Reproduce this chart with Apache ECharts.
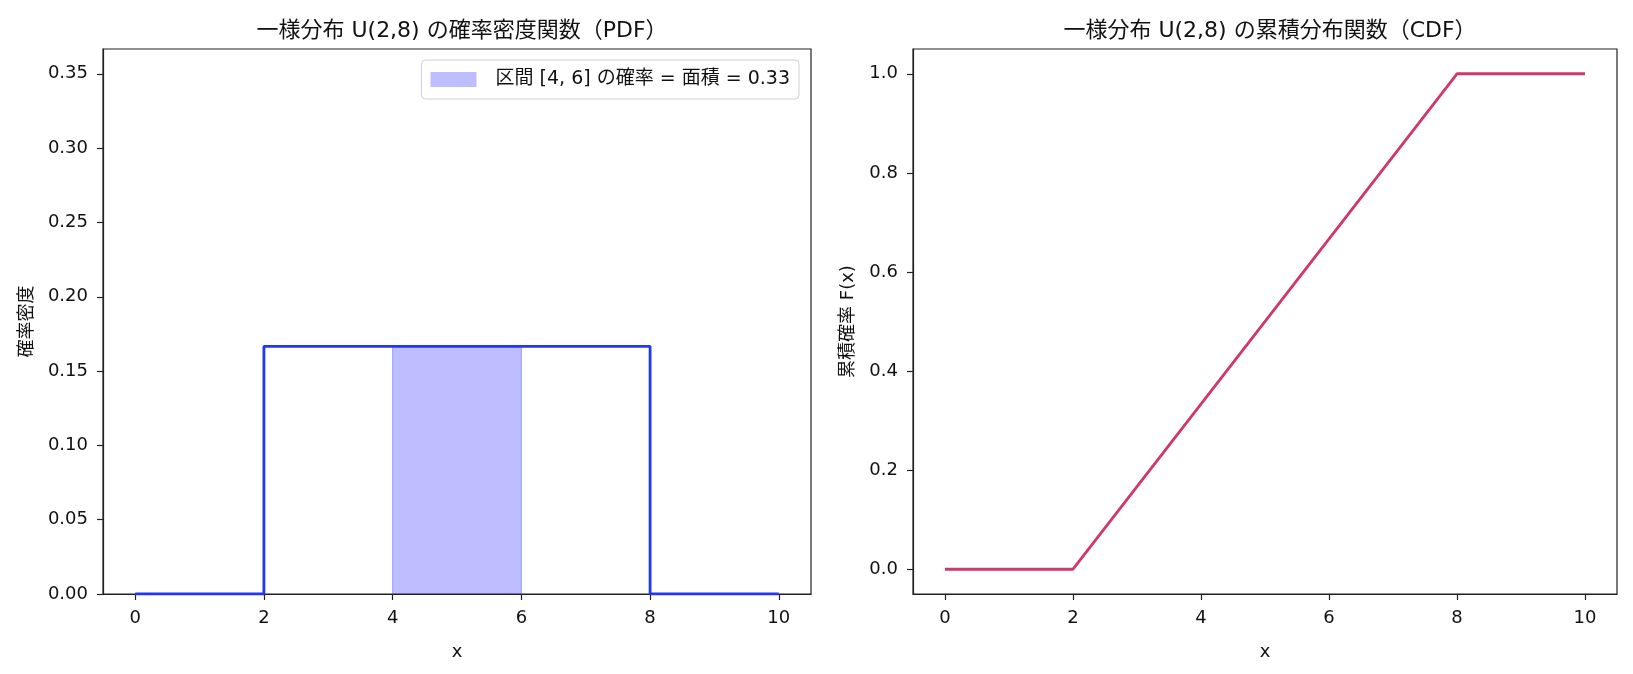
<!DOCTYPE html>
<html>
<head>
<meta charset="utf-8">
<script src="https://cdn.jsdelivr.net/npm/echarts@6/dist/echarts.min.js"></script>
<style>
  html, body { margin: 0; padding: 0; background: #fff; }
  #main { width: 1633px; height: 674px; }
</style>
</head>
<body>
<div id="main"></div>
<script>
// 一様分布 U(2,8) のデータ
const pdfPoints = [[0, 0], [2, 0], [2, 1 / 6], [8, 1 / 6], [8, 0], [10, 0]];
const areaPoints = [[4, 0], [4, 1 / 6], [6, 1 / 6], [6, 0]];
const cdfPoints = [[0, 0], [2, 0], [8, 1], [10, 1]];
const xTicks = [0, 2, 4, 6, 8, 10];
const cdfTicks = [0, 0.2, 0.4, 0.6, 0.8, 1.0];
const areaName = '区間 [4, 6] の確率 = 面積 = 0.33';

const FONT = '"DejaVu Sans", "Noto Sans CJK JP", sans-serif';
const chart = echarts.init(document.getElementById('main'), null, { renderer: 'canvas' });

const axisCommon = {
  axisLine: { show: true, onZero: false, lineStyle: { color: '#222', width: 1.2 } },
  axisTick: { show: true, inside: false, length: 6, lineStyle: { color: '#222', width: 1.2 } },
  axisLabel: { color: '#111', fontSize: 18, fontFamily: FONT, margin: 15 },
  splitLine: { show: false },
  nameTextStyle: { color: '#111', fontSize: 18, fontFamily: FONT }
};

chart.setOption({
  animation: false,
  textStyle: { fontFamily: FONT },
  title: [
    { text: '一様分布 U(2,8) の確率密度関数（PDF）', left: 457, top: 15, textAlign: 'center',
      textStyle: { fontSize: 22, fontWeight: 'normal', color: '#111', fontFamily: FONT } },
    { text: '一様分布 U(2,8) の累積分布関数（CDF）', left: 1265, top: 15, textAlign: 'center',
      textStyle: { fontSize: 22, fontWeight: 'normal', color: '#111', fontFamily: FONT } }
  ],
  legend: {
    data: [areaName],
    right: 834, top: 60,
    orient: 'vertical',
    padding: [10, 9],
    itemWidth: 46, itemHeight: 15, itemGap: 5,
    icon: 'rect',
    borderColor: '#d0d0d0', borderWidth: 1, borderRadius: 4,
    backgroundColor: 'rgba(255,255,255,0.8)',
    textStyle: { fontSize: 19, color: '#111', fontFamily: FONT, padding: [0, 0, 0, 14] }
  },
  grid: [
    { left: 103, right: 822, top: 49, bottom: 80, show: true, borderColor: '#222', borderWidth: 1.2, containLabel: false },
    { left: 913, right: 16, top: 49, bottom: 80, show: true, borderColor: '#222', borderWidth: 1.2, containLabel: false }
  ],
  xAxis: [
    Object.assign({}, axisCommon, {
      type: 'value', gridIndex: 0, min: -0.5, max: 10.5,
      name: 'x', nameLocation: 'middle', nameGap: 49,
      axisTick: Object.assign({}, axisCommon.axisTick, { customValues: xTicks }),
      axisLabel: Object.assign({}, axisCommon.axisLabel, { customValues: xTicks })
    }),
    Object.assign({}, axisCommon, {
      type: 'value', gridIndex: 1, min: -0.5, max: 10.5,
      name: 'x', nameLocation: 'middle', nameGap: 49,
      axisTick: Object.assign({}, axisCommon.axisTick, { customValues: xTicks }),
      axisLabel: Object.assign({}, axisCommon.axisLabel, { customValues: xTicks })
    })
  ],
  yAxis: [
    Object.assign({}, axisCommon, {
      type: 'value', gridIndex: 0, min: 0, max: 0.3667, interval: 0.05,
      name: '確率密度', nameLocation: 'middle', nameGap: 67, nameRotate: 90,
      axisLabel: Object.assign({}, axisCommon.axisLabel, {
        showMaxLabel: false,
        formatter: v => v.toFixed(2)
      })
    }),
    Object.assign({}, axisCommon, {
      type: 'value', gridIndex: 1, min: -0.05, max: 1.05,
      name: '累積確率 F(x)', nameLocation: 'middle', nameGap: 56, nameRotate: 90,
      axisTick: Object.assign({}, axisCommon.axisTick, { customValues: cdfTicks }),
      axisLabel: Object.assign({}, axisCommon.axisLabel, {
        customValues: cdfTicks,
        formatter: v => v.toFixed(1)
      })
    })
  ],
  series: [
    {
      name: areaName, type: 'line', xAxisIndex: 0, yAxisIndex: 0,
      data: areaPoints, showSymbol: false, symbol: 'none',
      itemStyle: { color: 'rgba(0,0,255,0.26)', borderColor: 'rgba(0,0,255,0.4)' },
      lineStyle: { color: 'rgba(80,90,255,0.5)', width: 1 },
      areaStyle: { color: 'rgba(0,0,255,0.26)', opacity: 1 },
      z: 1
    },
    {
      name: 'PDF', type: 'line', xAxisIndex: 0, yAxisIndex: 0,
      data: pdfPoints, showSymbol: false, symbol: 'none',
      lineStyle: { color: '#2337f2', width: 2.8 },
      z: 2
    },
    {
      name: 'CDF', type: 'line', xAxisIndex: 1, yAxisIndex: 1,
      data: cdfPoints, showSymbol: false, symbol: 'none',
      lineStyle: { color: '#cf3868', width: 2.8 },
      z: 2
    }
  ]
});
</script>
</body>
</html>
